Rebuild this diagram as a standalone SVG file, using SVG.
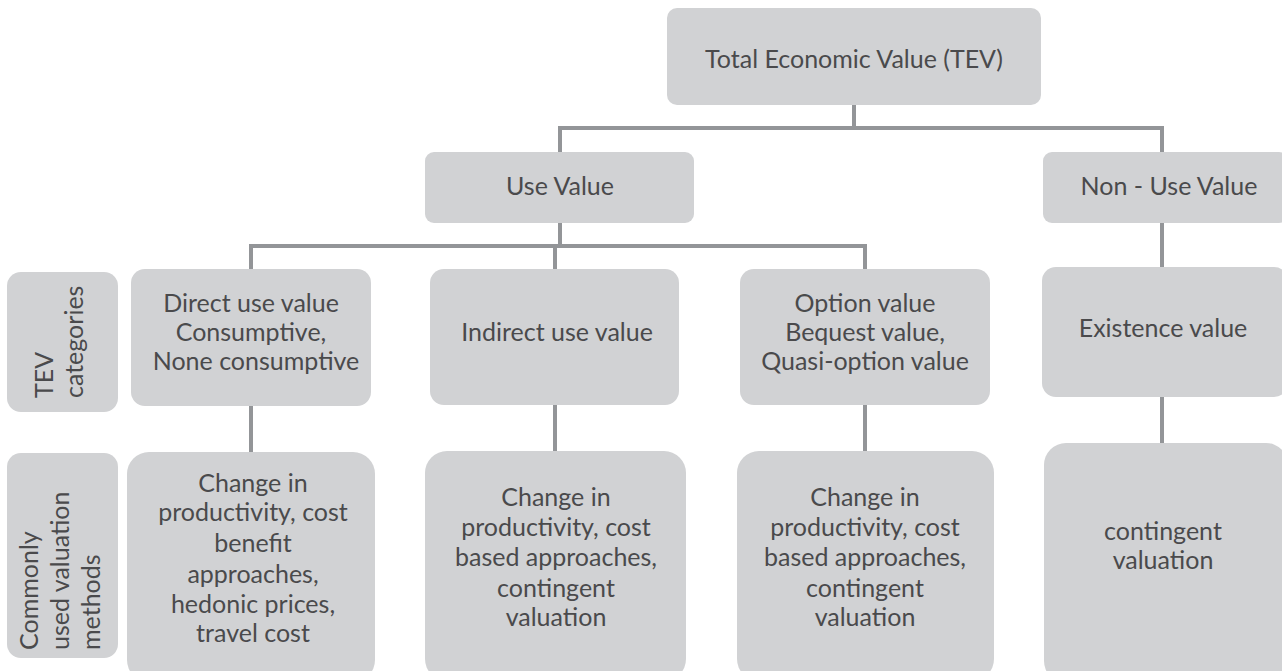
<svg xmlns="http://www.w3.org/2000/svg" width="1282" height="671" viewBox="0 0 1282 671">
<style>
.box{fill:#d1d2d4;}
.t{font-family:Lato,"Open Sans",sans-serif;font-size:25px;fill:#4a4a4c;text-anchor:middle;}
.r{font-family:Lato,"Open Sans",sans-serif;font-size:25px;fill:#4a4a4c;text-anchor:start;}
.c{stroke:#939598;stroke-width:4;fill:none;}
</style>
<rect width="1282" height="671" fill="#ffffff"/>
<g id="connectors">
<path class="c" d="M854,105 V128 M558,128 H1164 M560,128 V152 M1162,128 V152"/>
<path class="c" d="M560,223 V246 M249,246 H867 M251,246 V269 M555,246 V269 M865,246 V269 M1162,223 V267"/>
<path class="c" d="M251,406 V452 M555,405 V451 M865,405 V451 M1162,397 V443"/>
</g>
<g id="tev">
<rect class="box" x="667" y="8" width="374" height="97" rx="10"/>
<text class="t" x="854" y="68">Total Economic Value (TEV)</text>
</g>
<g id="use-value">
<rect class="box" x="425" y="152" width="269" height="71" rx="9"/>
<text class="t" x="560" y="195">Use Value</text>
</g>
<g id="non-use-value">
<rect class="box" x="1043" y="152" width="245" height="71" rx="9"/>
<text class="t" x="1169" y="195">Non - Use Value</text>
</g>
<g id="label-categories">
<rect class="box" x="7" y="272" width="111" height="140" rx="14"/>
<text class="r" transform="translate(53,398) rotate(-90)">TEV</text>
<text class="r" transform="translate(83,398) rotate(-90)">categories</text>
</g>
<g id="label-methods">
<rect class="box" x="7" y="453" width="111" height="205" rx="14"/>
<text class="r" transform="translate(38,650) rotate(-90)">Commonly</text>
<text class="r" transform="translate(69,650) rotate(-90)">used valuation</text>
<text class="r" transform="translate(100,650) rotate(-90)">methods</text>
</g>
<g id="direct-use">
<rect class="box" x="131" y="269" width="240" height="137" rx="14"/>
<text class="t" x="251" y="312">Direct use value</text>
<text class="t" x="251" y="341">Consumptive,</text>
<text class="t" x="256" y="370">None consumptive</text>
</g>
<g id="indirect-use">
<rect class="box" x="430" y="269" width="249" height="136" rx="14"/>
<text class="t" x="557" y="341">Indirect use value</text>
</g>
<g id="option-value">
<rect class="box" x="740" y="269" width="250" height="136" rx="14"/>
<text class="t" x="865" y="312">Option value</text>
<text class="t" x="865" y="341">Bequest value,</text>
<text class="t" x="865" y="370">Quasi-option value</text>
</g>
<g id="existence-value">
<rect class="box" x="1042" y="267" width="246" height="130" rx="14"/>
<text class="t" x="1163" y="337">Existence value</text>
</g>
<g id="direct-methods">
<rect class="box" x="127" y="452" width="248" height="230" rx="22"/>
<text class="t" x="253" y="492">Change in</text>
<text class="t" x="253" y="521">productivity, cost</text>
<text class="t" x="253" y="552">benefit</text>
<text class="t" x="253" y="583">approaches,</text>
<text class="t" x="253" y="613">hedonic prices,</text>
<text class="t" x="253" y="642">travel cost</text>
</g>
<g id="indirect-methods">
<rect class="box" x="425" y="451" width="261" height="230" rx="22"/>
<text class="t" x="556" y="506">Change in</text>
<text class="t" x="556" y="536">productivity, cost</text>
<text class="t" x="556" y="566">based approaches,</text>
<text class="t" x="556" y="597">contingent</text>
<text class="t" x="556" y="626">valuation</text>
</g>
<g id="option-methods">
<rect class="box" x="737" y="451" width="257" height="230" rx="22"/>
<text class="t" x="865" y="506">Change in</text>
<text class="t" x="865" y="536">productivity, cost</text>
<text class="t" x="865" y="566">based approaches,</text>
<text class="t" x="865" y="597">contingent</text>
<text class="t" x="865" y="626">valuation</text>
</g>
<g id="existence-methods">
<rect class="box" x="1044" y="443" width="244" height="240" rx="22"/>
<text class="t" x="1163" y="540">contingent</text>
<text class="t" x="1163" y="569">valuation</text>
</g>
</svg>
